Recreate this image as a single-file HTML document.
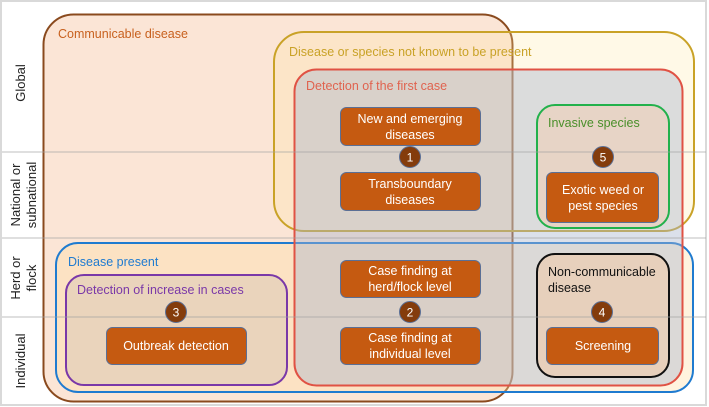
<!DOCTYPE html>
<html><head><meta charset="utf-8"><style>
html,body{margin:0;padding:0;background:#fff;}
svg{display:block;font-family:"Liberation Sans",sans-serif;}
</style></head><body>
<svg width="709" height="407" viewBox="0 0 709 407">
<rect x="1" y="1" width="705" height="404" fill="#fff" stroke="#d9d9d9" stroke-width="2"/>
<!-- communicable -->
<rect x="43.5" y="14.5" width="469" height="387" rx="30" fill="#fbe5d6" stroke="#8a4a1e" stroke-width="2"/>
<!-- not known -->
<rect x="274" y="32" width="420" height="199" rx="30" fill="rgba(255,232,160,0.25)" stroke="#c9a227" stroke-width="2"/>
<!-- blue disease present -->
<rect x="56" y="243" width="637" height="149" rx="22" fill="rgba(255,222,160,0.35)" stroke="#1f7bd0" stroke-width="2"/>
<!-- red detection first case -->
<rect x="294.5" y="69.5" width="388" height="316" rx="22" fill="rgba(170,182,205,0.42)" stroke="#e05244" stroke-width="2"/>
<!-- purple -->
<rect x="66" y="275" width="221" height="110" rx="18" fill="rgba(200,185,175,0.35)" stroke="#7a38a8" stroke-width="2"/>
<!-- green -->
<rect x="537" y="105" width="132" height="123" rx="18" fill="rgba(240,205,180,0.55)" stroke="#22b14c" stroke-width="2"/>
<!-- black -->
<rect x="537" y="254" width="132" height="123" rx="18" fill="rgba(240,200,165,0.55)" stroke="#111" stroke-width="2"/>
<!-- row lines -->
<g stroke="rgba(160,160,160,0.45)" stroke-width="1.5">
<line x1="2" y1="152" x2="706" y2="152"/>
<line x1="2" y1="238" x2="706" y2="238"/>
<line x1="2" y1="317" x2="706" y2="317"/>
</g>
<!-- row labels -->
<g font-size="13" fill="#222" text-anchor="middle">
<text transform="translate(25,83) rotate(-90)">Global</text>
<text transform="translate(20,195) rotate(-90)"><tspan x="0" y="0">National or</tspan><tspan x="0" y="16">subnational</tspan></text>
<text transform="translate(20,278) rotate(-90)"><tspan x="0" y="0">Herd or</tspan><tspan x="0" y="16">flock</tspan></text>
<text transform="translate(25,361) rotate(-90)">Individual</text>
</g>
<!-- group labels -->
<g font-size="12.5">
<text x="58" y="38" fill="#c8611f">Communicable disease</text>
<text x="289" y="56" fill="#c9a227">Disease or species not known to be present</text>
<text x="306" y="90" fill="#e0634f">Detection of the first case</text>
<text x="548" y="127" fill="#4a8f2a">Invasive species</text>
<text x="68" y="266" fill="#1f7bd0">Disease present</text>
<text x="77" y="294" fill="#7a38a8">Detection of increase in cases</text>
<text x="548" y="276" fill="#111">Non-communicable</text>
<text x="548" y="292" fill="#111">disease</text>
</g>
<!-- orange boxes -->
<g fill="#c55a11" stroke="#5b6f95" stroke-width="1">
<rect x="340.5" y="107.5" width="140" height="38" rx="6"/>
<rect x="340.5" y="172.5" width="140" height="38" rx="6"/>
<rect x="340.5" y="260.5" width="140" height="37" rx="6"/>
<rect x="340.5" y="327.5" width="140" height="37" rx="6"/>
<rect x="106.5" y="327.5" width="140" height="37" rx="6"/>
<rect x="546.5" y="172.5" width="112" height="50" rx="6"/>
<rect x="546.5" y="327.5" width="112" height="37" rx="6"/>
</g>
<g font-size="12.5" fill="#fff" text-anchor="middle">
<text x="410" y="123">New and emerging</text><text x="410" y="139">diseases</text>
<text x="410" y="188">Transboundary</text><text x="410" y="204">diseases</text>
<text x="410" y="275">Case finding at</text><text x="410" y="291">herd/flock level</text>
<text x="410" y="342">Case finding at</text><text x="410" y="358">individual level</text>
<text x="176" y="350">Outbreak detection</text>
<text x="603" y="194">Exotic weed or</text><text x="603" y="210">pest species</text>
<text x="603" y="350">Screening</text>
</g>
<!-- circles -->
<g fill="#843c0c" stroke="#5b6f95" stroke-width="1">
<circle cx="410" cy="157" r="10.5"/>
<circle cx="410" cy="312" r="10.5"/>
<circle cx="176" cy="312" r="10.5"/>
<circle cx="602" cy="312" r="10.5"/>
<circle cx="603" cy="157" r="10.5"/>
</g>
<g font-size="12" fill="#fff" text-anchor="middle">
<text x="410" y="161.5">1</text>
<text x="410" y="316.5">2</text>
<text x="176" y="316.5">3</text>
<text x="602" y="316.5">4</text>
<text x="603" y="161.5">5</text>
</g>
</svg>
</body></html>
